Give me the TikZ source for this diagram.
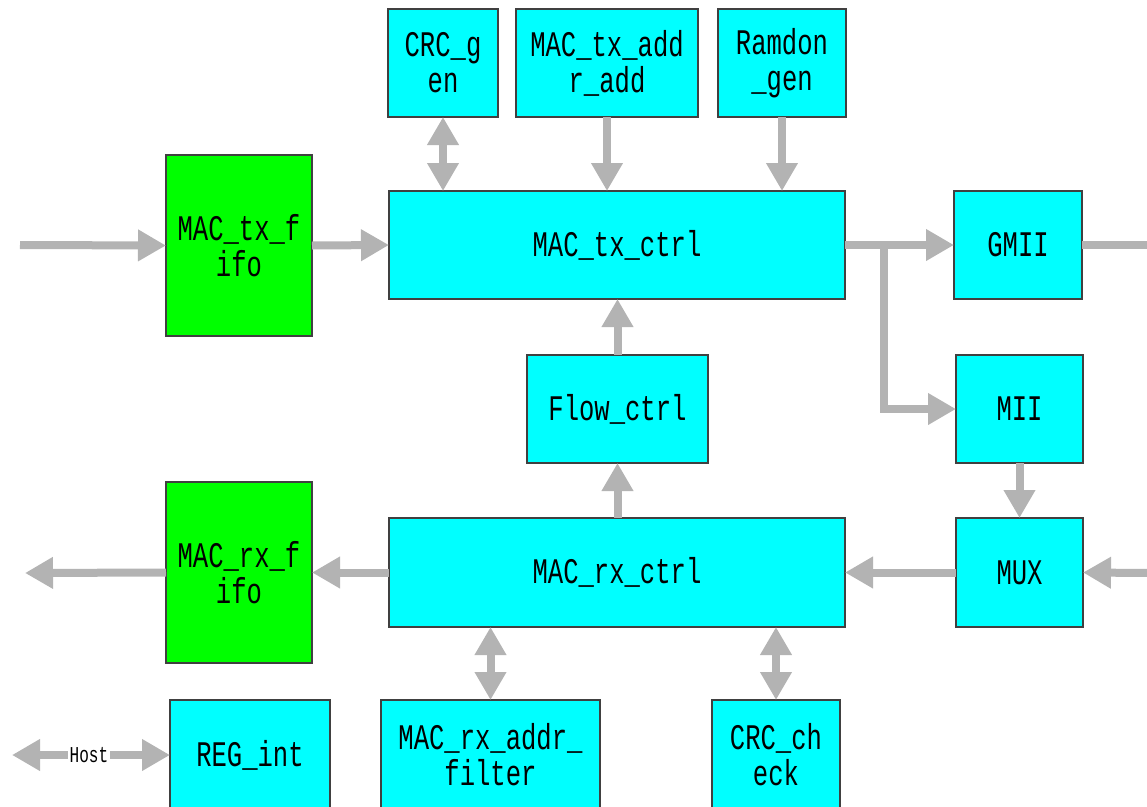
\documentclass[tikz,border=0pt]{standalone}
\usepackage{fontspec}
\newfontfamily\blkfont[FakeStretch=0.71]{Liberation Mono}
\usetikzlibrary{arrows.meta}
\definecolor{arr}{HTML}{B3B3B3}
\definecolor{bord}{HTML}{404040}
\definecolor{boxcyan}{HTML}{00FFFF}
\definecolor{boxgreen}{HTML}{00FF00}
\begin{document}
\begin{tikzpicture}[x=0.75pt,y=-0.75pt,
  blk/.style={draw=bord, line width=0.8pt, fill=boxcyan, inner sep=0pt, outer sep=0pt,
    font=\blkfont\fontsize{27}{27}\selectfont, align=center, text=black},
  fifo/.style={blk, fill=boxgreen},
  wh/.style 2 args={minimum width=#1*0.75pt, minimum height=#2*0.75pt},
  conn/.style={draw=arr, line width=6pt, -{Triangle[length=21pt,width=22.5pt]}},
  biconn/.style={draw=arr, line width=6pt, {Triangle[length=21pt,width=22.5pt]}-{Triangle[length=21pt,width=22.5pt]}},
  plain/.style={draw=arr, line width=6pt},
  hostlbl/.style={fill=white, inner sep=1pt, font=\blkfont\fontsize{17}{18}\selectfont}]
\useasboundingbox (0,0) rectangle (1147,807);
\clip (0,0) rectangle (1147,807);

% boxes
\node[blk, wh={110}{108}] (crcgen) at (443,63) {CRC\_g\\en};
\node[blk, wh={182}{108}] (txaddr) at (607,63) {MAC\_tx\_add\\r\_add};
\node[blk, wh={128}{108}] (ramdon) at (782,63) {Ramdon\\\_gen};
\node[blk, wh={456}{108}] (txctrl) at (617,245) {MAC\_tx\_ctrl};
\node[fifo, wh={146}{181}] (txfifo) at (239,245.5) {MAC\_tx\_f\\ifo};
\node[blk, wh={128}{108}] (gmii) at (1018,245) {GMII};
\node[blk, wh={127}{108}] (mii) at (1019.5,409) {MII};
\node[blk, wh={181}{108}] (flow) at (617.5,409) {Flow\_ctrl};
\node[fifo, wh={146}{181}] (rxfifo) at (239,572.5) {MAC\_rx\_f\\ifo};
\node[blk, wh={456}{109}] (rxctrl) at (617,572.5) {MAC\_rx\_ctrl};
\node[blk, wh={127}{109}] (mux) at (1019.5,572.5) {MUX};
\node[blk, wh={160}{110}] (regint) at (250,755) {REG\_int};
\node[blk, wh={219}{110}] (rxaddr) at (490.5,755) {MAC\_rx\_addr\_\\filter};
\node[blk, wh={128}{110}] (crcchk) at (776,755) {CRC\_ch\\eck};

% free ends
\coordinate (txin) at (20,245);
\coordinate (gout) at (1150,245);
\coordinate (muxin) at (1150,573);
\coordinate (rxout) at (25,573);
\coordinate (hostL) at (12,755);
\coordinate (br) at (884,245);

% connectors
\draw[conn] (txin) -- (txfifo.west);
\draw[conn] (txfifo.east) -- (txctrl.west);
\draw[biconn] (crcgen.south) -- (crcgen.south |- txctrl.north);
\draw[conn] (txaddr.south) -- (txaddr.south |- txctrl.north);
\draw[conn] (ramdon.south) -- (ramdon.south |- txctrl.north);
\draw[conn] (txctrl.east) -- (gmii.west);
\draw[conn] (br) |- (mii.west);
\draw[plain] (gmii.east) -- (gout);
\draw[conn] (flow.north) -- (flow.north |- txctrl.south);
\draw[conn] (mii.south) -- (mii.south |- mux.north);
\draw[conn] (flow.south |- rxctrl.north) -- (flow.south);
\draw[conn] (mux.west) -- (rxctrl.east);
\draw[conn] (muxin) -- (mux.east);
\draw[conn] (rxctrl.west) -- (rxfifo.east);
\draw[conn] (rxfifo.west) -- (rxout);
\draw[biconn] (rxaddr.north |- rxctrl.south) -- (rxaddr.north);
\draw[biconn] (crcchk.north |- rxctrl.south) -- (crcchk.north);
\draw[biconn] (hostL) -- (regint.west);
\node[hostlbl] (host) at (89,755) {Host};
\end{tikzpicture}
\end{document}
